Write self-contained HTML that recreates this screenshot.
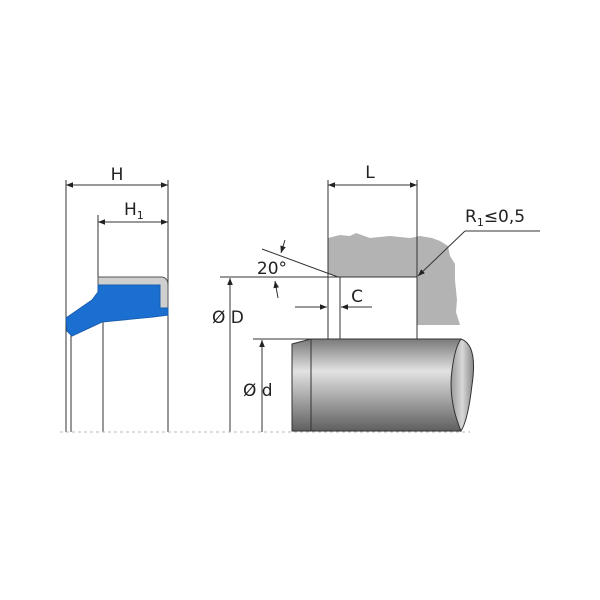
<!DOCTYPE html>
<html><head><meta charset="utf-8"><style>
html,body{margin:0;padding:0;background:#fff}
svg{display:block}
text{font-family:"DejaVu Sans","Liberation Sans",sans-serif;fill:#222}
</style></head><body>
<svg width="600" height="600" viewBox="0 0 600 600" xmlns="http://www.w3.org/2000/svg">
<defs>
<linearGradient id="sg" x1="0" y1="0" x2="0" y2="1">
<stop offset="0" stop-color="#7a7a7a"/><stop offset="0.35" stop-color="#e2e2e2"/><stop offset="1" stop-color="#5f5f5f"/>
</linearGradient>
<linearGradient id="eg" x1="0" y1="0" x2="1" y2="0">
<stop offset="0" stop-color="#9a9a9a"/><stop offset="0.5" stop-color="#d8d8d8"/><stop offset="1" stop-color="#888"/>
</linearGradient>
<marker id="a" viewBox="0 0 10 10" refX="10" refY="5" markerWidth="7" markerHeight="7" orient="auto-start-reverse"><path d="M0,1 L10,5 L0,9 z" fill="#222"/></marker>
</defs>
<g stroke="#333" stroke-width="1" fill="none">
<!-- left seal -->
<line x1="66" y1="180" x2="66" y2="432"/>
<line x1="71" y1="335" x2="71" y2="432"/>
<line x1="98" y1="215" x2="98" y2="278"/>
<line x1="103" y1="322" x2="103" y2="432"/>
<line x1="168" y1="180" x2="168" y2="432"/>
<line x1="66" y1="185" x2="168" y2="185" marker-start="url(#a)" marker-end="url(#a)"/>
<line x1="98" y1="222" x2="168" y2="222" marker-start="url(#a)" marker-end="url(#a)"/>
</g>
<path d="M98,277 H162 Q168,278 168,285 V308 H160 V285 H98 Z" fill="#cfcfcf" stroke="#555" stroke-width="1"/>
<path d="M98,285 H160 V308 H168 V315 L153,317 L102,322 L72,336 L67,331 L66,318 L92,300 L98,292 Z" fill="#1a6fd1" stroke="#1a5fb0" stroke-width="1"/>
<text x="117" y="180" font-size="17" text-anchor="middle">H</text>
<text x="124" y="215" font-size="17">H<tspan font-size="11" dy="4">1</tspan></text>
<!-- housing -->
<path d="M328,238 L340,235 L350,236 L356,233 L370,238 L390,236 L410,238 L420,236 L432,238 L440,241 L448,246 L450,256 L455,264 L455,280 L457,300 L456,312 L460,325 L417,325 L417,277 L338,277 L328,274 Z" fill="#b3b3b3"/>
<!-- shaft -->
<path d="M292,344 L311,339 H461 V431 H292 Z" fill="url(#sg)" stroke="#333" stroke-width="1"/>
<path d="M461,339 Q478,345 472,385 Q468,420 461,431 Q448,400 452,370 Q455,347 461,339 Z" fill="url(#eg)" stroke="#333" stroke-width="1"/>
<g stroke="#333" stroke-width="1" fill="none">
<line x1="311" y1="339" x2="311" y2="431"/>
<line x1="328" y1="180" x2="328" y2="339"/>
<line x1="417" y1="180" x2="417" y2="339"/>
<line x1="340" y1="277" x2="340" y2="339"/>
<line x1="338" y1="277" x2="417" y2="277"/>
<line x1="328" y1="185" x2="417" y2="185" marker-start="url(#a)" marker-end="url(#a)"/>
<line x1="220" y1="277" x2="338" y2="277"/>
<line x1="262" y1="249" x2="338" y2="277"/>
<line x1="230" y1="432" x2="230" y2="278" marker-end="url(#a)"/>
<line x1="253" y1="339" x2="310" y2="339"/>
<line x1="262" y1="432" x2="262" y2="340" marker-end="url(#a)"/>
<line x1="295" y1="307" x2="327" y2="307" marker-end="url(#a)"/>
<line x1="372" y1="307" x2="341" y2="307" marker-end="url(#a)"/>
<line x1="540" y1="231" x2="465" y2="231"/>
<line x1="465" y1="231" x2="418" y2="276" marker-end="url(#a)"/>
<path d="M285,240 L281,253" marker-end="url(#a)"/>
<path d="M278,298 L275,281" marker-end="url(#a)"/>
</g>
<line x1="60" y1="432" x2="470" y2="432" stroke="#bbb" stroke-width="1" stroke-dasharray="3,3"/>
<text x="370" y="178" font-size="17" text-anchor="middle">L</text>
<text x="465" y="222" font-size="17">R<tspan font-size="11" dy="4">1</tspan><tspan dy="-4">≤0,5</tspan></text>
<text x="272" y="274" font-size="17" text-anchor="middle">20°</text>
<text x="357" y="302" font-size="17" text-anchor="middle">C</text>
<text x="212" y="323" font-size="17">Ø D</text>
<text x="243" y="396" font-size="17">Ø d</text>
</svg>
</body></html>
